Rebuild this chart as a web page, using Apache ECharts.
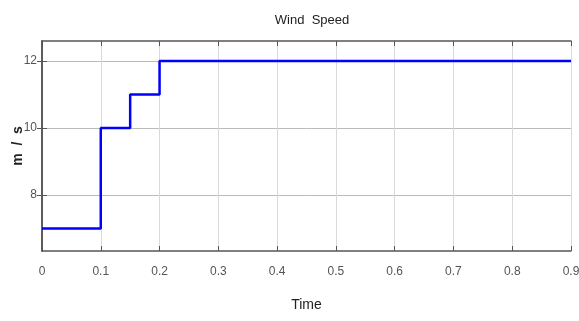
<!DOCTYPE html>
<html><head><meta charset="utf-8">
<script src="https://cdn.jsdelivr.net/npm/echarts@6/dist/echarts.min.js"></script>
<style>html,body{margin:0;padding:0;background:#fff}#c{width:579px;height:321px}</style>
</head><body><div id="c"></div>
<script>
const times = [0, 0.1, 0.15, 0.2, 0.9];
const speeds = [7, 10, 11, 12, 12];
const yTicks = [8, 10, 12];
const xTickLabels = ['0','0.1','0.2','0.3','0.4','0.5','0.6','0.7','0.8','0.9'];

const FONT = '"Liberation Sans Narrow", "Liberation Sans", sans-serif';
const chart = echarts.init(document.getElementById('c'));
const gridCol = '#d9d9d9';
const axisCol = '#555';
chart.setOption({
  animation: false,
  title: {text: 'Wind  Speed', left: 307, top: 9, textAlign: 'center',
    textStyle: {fontFamily: FONT, fontSize: 13, fontWeight: 'normal', color: '#222'}},
  grid: {left: 42, right: 8, top: 41, bottom: 70, outerBoundsMode: 'none', containLabel: false},
  xAxis: [{
    type: 'value', min: 0, max: 0.9, interval: 0.1,
    name: 'Time', nameLocation: 'middle', nameGap: 47, nameMoveOverlap: false,
    nameTextStyle: {fontFamily: FONT, fontSize: 14, color: '#222'},
    axisLine: {show: true, lineStyle: {color: axisCol, width: 1.5}},
    axisTick: {show: true, inside: true, length: 5, lineStyle: {color: axisCol}},
    axisLabel: {fontFamily: FONT, fontSize: 12, color: '#555', margin: 15,
      formatter: v => xTickLabels[Math.round(v * 10)]},
    splitLine: {show: true, lineStyle: {color: gridCol, width: 1}}
  }, {
    type: 'value', min: 0, max: 0.9, interval: 0.1, position: 'top',
    axisLine: {show: true, lineStyle: {color: axisCol, width: 1.5}},
    axisTick: {show: true, inside: true, length: 5, lineStyle: {color: axisCol}},
    axisLabel: {show: false}, splitLine: {show: false}
  }],
  yAxis: [{
    type: 'value', min: 6.33, max: 12.6,
    name: 'm  /  s', nameLocation: 'middle', nameGap: 17, nameRotate: 90, nameMoveOverlap: false,
    nameTextStyle: {fontFamily: FONT, fontSize: 14, fontWeight: 'bold', color: '#222'},
    axisLine: {show: true, lineStyle: {color: axisCol, width: 1.5}},
    axisTick: {show: true, inside: true, length: 5, customValues: yTicks, lineStyle: {color: axisCol}},
    axisLabel: {fontFamily: FONT, fontSize: 12, color: '#555', margin: 5, customValues: yTicks},
    splitLine: {show: true, lineStyle: {color: '#bbb', width: 1}}
  }, {
    type: 'value', min: 6.33, max: 12.6, position: 'right',
    axisLine: {show: true, lineStyle: {color: axisCol, width: 1.5}},
    axisTick: {show: true, inside: true, length: 5, customValues: yTicks, lineStyle: {color: axisCol}},
    axisLabel: {show: false}, splitLine: {show: false}
  }],
  series: [{
    type: 'line', step: 'end', showSymbol: false,
    data: times.map((t, i) => [t, speeds[i]]),
    lineStyle: {color: '#0000ff', width: 2.5}
  }]
});
</script></body></html>
